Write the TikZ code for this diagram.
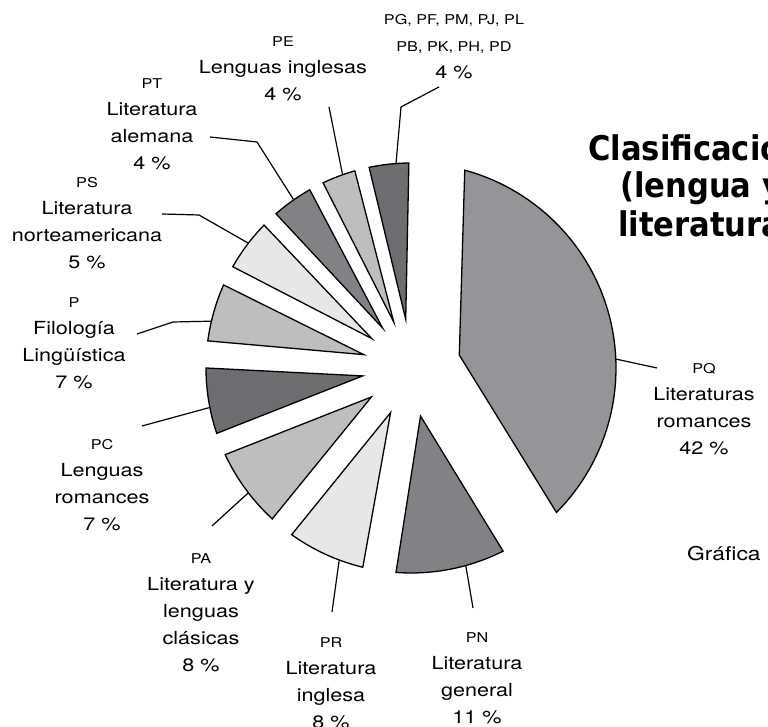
\documentclass[tikz,border=0pt]{standalone}
\usepackage{fontspec}
\setmainfont{TeX Gyre Heros}[FakeStretch=1.2]
\newfontfamily\titlefont{DejaVu Sans}[FakeStretch=0.9]
\usetikzlibrary{calc}

\definecolor{grisA}{RGB}{109,110,113}
\definecolor{grisB}{RGB}{188,190,192}
\definecolor{grisC}{RGB}{128,130,133}
\definecolor{grisD}{RGB}{230,231,232}
\definecolor{grisE}{RGB}{147,149,152}
\newcommand\clave{\fontsize{13.5}{27}\selectfont}

\begin{document}
\begin{tikzpicture}[x=1pt,y=1pt,slice/.style={draw=black,line width=1.3pt},leader/.style={draw=black,line width=1.2pt},rotulo/.style={anchor=north,inner sep=0pt,align=center,font=\fontsize{18}{27}\selectfont},titulo/.style={anchor=base west,inner sep=0pt,font=\titlefont\bfseries\fontsize{34}{40}\selectfont}]
\clip (0,0) rectangle (768,727);
\coordinate (C) at (411,359);

% slices
\draw [slice,fill=grisA] ($(C)+(96.2:49)$) -- ($(C)+(90.6:205)$) arc[start angle=90.6,end angle=101.8,radius=205] -- cycle;
\draw [slice,fill=grisB] ($(C)+(110.6:49)$) -- ($(C)+(105.9:205)$) arc[start angle=105.9,end angle=115.4,radius=205] -- cycle;
\draw [slice,fill=grisC] ($(C)+(125.4:49)$) -- ($(C)+(119.6:205)$) arc[start angle=119.6,end angle=131.2,radius=205] -- cycle;
\draw [slice,fill=grisD] ($(C)+(143.1:49)$) -- ($(C)+(135.8:205)$) arc[start angle=135.8,end angle=150.4,radius=205] -- cycle;
\draw [slice,fill=grisB] ($(C)+(164.2:49)$) -- ($(C)+(156.1:205)$) arc[start angle=156.1,end angle=172.4,radius=205] -- cycle;
\draw [slice,fill=grisA] ($(C)+(189.3:49)$) -- ($(C)+(180:205)$) arc[start angle=180,end angle=198.6,radius=205] -- cycle;
\draw [slice,fill=grisB] ($(C)+(216.2:49)$) -- ($(C)+(205:205)$) arc[start angle=205,end angle=227.4,radius=205] -- cycle;
\draw [slice,fill=grisD] ($(C)+(245.4:49)$) -- ($(C)+(234.4:205)$) arc[start angle=234.4,end angle=256.4,radius=205] -- cycle;
\draw [slice,fill=grisC] ($(C)+(281.2:49)$) -- ($(C)+(265.8:205)$) arc[start angle=265.8,end angle=296.7,radius=205] -- cycle;
\draw [slice,fill=grisE] ($(C)+(15:50)$) -- ($(C)+(-44.8:205)$) arc[start angle=-44.8,end angle=74.8,radius=205] -- cycle;

% labels
\node(PG)[rotulo] at (454,713) {{\clave PG, PF, PM, PJ, PL}\\{\clave PB, PK, PH, PD}\\4 \%};
\node(PE)[rotulo] at (283,691) {{\clave PE}\\Lenguas inglesas\\4 \%};
\node(PT)[rotulo] at (152,649) {{\clave PT}\\Literatura\\alemana\\4 \%};
\node(PS)[rotulo] at (87,550) {{\clave PS}\\Literatura\\norteamericana\\5 \%};
\node(P)[rotulo] at (74,430) {{\clave P}\\Filología\\Lingüística\\7 \%};
\node(PC)[rotulo] at (102,288) {{\clave PC}\\Lenguas\\romances\\7 \%};
\node(PA)[rotulo] at (201,174) {{\clave PA}\\Literatura y\\lenguas\\clásicas\\8 \%};
\node(PR)[rotulo] at (331,90) {{\clave PR}\\Literatura\\inglesa\\8 \%};
\node(PN)[rotulo] at (477,95) {{\clave PN}\\Literatura\\general\\11 \%};
\node(PQ)[rotulo] at (704,364) {{\clave PQ}\\Literaturas\\romances\\42 \%};

\node(tit1)[titulo] at (588,566) {Clasificación};
\node(tit2)[titulo] at (620,529) {(lengua y};
\node(tit3)[titulo] at (618,490) {literatura)};
\node(graf)[anchor=base west,inner sep=0pt,font=\fontsize{19}{24}\selectfont] at (687,166) {Gráfica};

% leader lines
\coordinate (pg-a) at ($(C)+(94.2:205)$);
\coordinate (pg-b) at (401,620);
\coordinate (pg-c) at (439,640);
\coordinate (pe-a) at ($(C)+(109.5:205)$);
\coordinate (pe-b) at (329,620);
\coordinate (pt-a) at ($(C)+(124.9:205)$);
\coordinate (pt-b) at (257,585);
\coordinate (pt-c) at (210,590);
\coordinate (ps-a) at ($(C)+(142.5:205)$);
\coordinate (ps-b) at (199,512);
\coordinate (ps-c) at (162,513);
\coordinate (p-a) at ($(C)+(166.8:205)$);
\coordinate (p-b) at (173,405);
\coordinate (p-c) at (137,393);
\coordinate (pc-a) at ($(C)+(191.1:205)$);
\coordinate (pc-b) at (142,301);
\coordinate (pa-a) at ($(C)+(217.5:205)$);
\coordinate (pa-b) at (212,201);
\coordinate (pr-a) at ($(C)+(249.5:205)$);
\coordinate (pr-b) at (332,115);
\coordinate (pn-a) at ($(C)+(285.5:205)$);
\coordinate (pn-b) at (473,119);
\coordinate (pq-a) at ($(C)+(2.5:205)$);
\coordinate (pq-b) at (657,359);

\draw [leader] (pg-a) -- (pg-b) -- (pg-c);
\draw [leader] (pe-a) -- (pe-b);
\draw [leader] (pt-a) -- (pt-b) -- (pt-c);
\draw [leader] (ps-a) -- (ps-b) -- (ps-c);
\draw [leader] (p-a) -- (p-b) -- (p-c);
\draw [leader] (pc-a) -- (pc-b);
\draw [leader] (pa-a) -- (pa-b);
\draw [leader] (pr-a) -- (pr-b);
\draw [leader] (pn-a) -- (pn-b);
\draw [leader] (pq-a) -- (pq-b);
\end{tikzpicture}
\end{document}
